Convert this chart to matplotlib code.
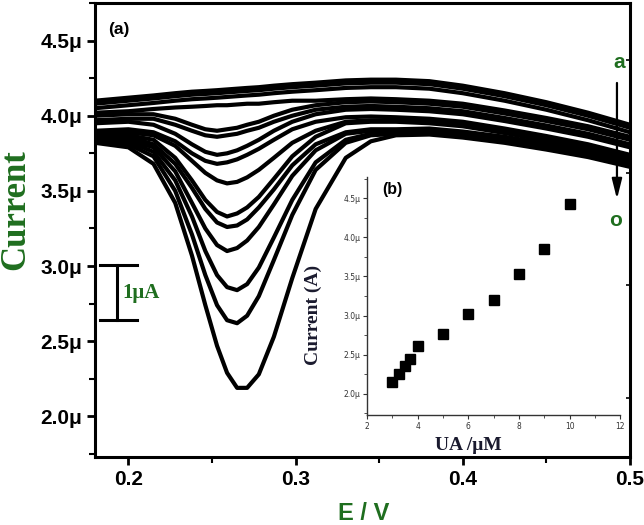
import matplotlib
matplotlib.use("Agg")
import matplotlib.pyplot as plt
from matplotlib.ticker import MultipleLocator, FuncFormatter

# potential grid (V) and DPV currents (uA), curves a..o
potential = [0.18, 0.20, 0.215, 0.228, 0.238, 0.246, 0.253, 0.259, 0.265, 0.271,
             0.278, 0.287, 0.298, 0.312, 0.33, 0.345, 0.36, 0.38, 0.40, 0.425,
             0.45, 0.475, 0.50]

curve_a = [4.10, 4.12, 4.135, 4.15, 4.16, 4.165, 4.17, 4.175, 4.18, 4.185, 4.19, 4.20, 4.21, 4.22, 4.235, 4.24, 4.24, 4.23, 4.20, 4.15, 4.09, 4.02, 3.94]
curve_b = [4.08, 4.10, 4.115, 4.13, 4.14, 4.145, 4.15, 4.155, 4.16, 4.165, 4.17, 4.18, 4.19, 4.20, 4.215, 4.22, 4.22, 4.21, 4.18, 4.13, 4.07, 4.00, 3.92]
curve_c = [4.05, 4.07, 4.085, 4.10, 4.11, 4.115, 4.12, 4.125, 4.13, 4.135, 4.14, 4.15, 4.16, 4.17, 4.185, 4.19, 4.19, 4.18, 4.15, 4.10, 4.04, 3.97, 3.89]
curve_d = [4.02, 4.03, 4.045, 4.055, 4.06, 4.065, 4.07, 4.07, 4.075, 4.08, 4.08, 4.09, 4.10, 4.10, 4.11, 4.115, 4.11, 4.10, 4.08, 4.035, 3.985, 3.93, 3.86]
curve_e = [4.00, 4.01, 4.01, 3.98, 3.94, 3.91, 3.90, 3.91, 3.92, 3.94, 3.96, 4.00, 4.04, 4.07, 4.09, 4.095, 4.09, 4.08, 4.06, 4.015, 3.965, 3.91, 3.84]
curve_f = [3.97, 3.98, 3.98, 3.94, 3.90, 3.87, 3.86, 3.87, 3.88, 3.90, 3.92, 3.96, 4.00, 4.04, 4.06, 4.065, 4.06, 4.05, 4.03, 3.985, 3.935, 3.88, 3.81]
curve_g = [3.95, 3.96, 3.94, 3.88, 3.81, 3.76, 3.74, 3.75, 3.77, 3.80, 3.84, 3.90, 3.96, 4.01, 4.04, 4.045, 4.04, 4.03, 4.01, 3.965, 3.915, 3.86, 3.79]
curve_h = [3.90, 3.91, 3.89, 3.83, 3.75, 3.70, 3.68, 3.69, 3.71, 3.74, 3.78, 3.84, 3.91, 3.96, 3.99, 3.995, 3.99, 3.98, 3.96, 3.915, 3.865, 3.81, 3.74]
curve_i = [3.88, 3.89, 3.87, 3.80, 3.70, 3.62, 3.57, 3.55, 3.56, 3.59, 3.64, 3.72, 3.82, 3.90, 3.96, 3.97, 3.97, 3.96, 3.94, 3.895, 3.845, 3.79, 3.72]
curve_j = [3.87, 3.87, 3.84, 3.72, 3.57, 3.44, 3.36, 3.33, 3.35, 3.39, 3.46, 3.58, 3.73, 3.86, 3.95, 3.96, 3.96, 3.95, 3.93, 3.885, 3.835, 3.78, 3.71]
curve_k = [3.86, 3.86, 3.81, 3.68, 3.52, 3.38, 3.29, 3.26, 3.27, 3.31, 3.39, 3.51, 3.67, 3.81, 3.89, 3.91, 3.91, 3.915, 3.895, 3.86, 3.815, 3.765, 3.70]
curve_l = [3.85, 3.84, 3.79, 3.63, 3.42, 3.25, 3.14, 3.10, 3.12, 3.17, 3.26, 3.41, 3.60, 3.77, 3.88, 3.90, 3.90, 3.905, 3.885, 3.85, 3.805, 3.755, 3.69]
curve_m = [3.84, 3.83, 3.76, 3.57, 3.33, 3.10, 2.94, 2.86, 2.84, 2.88, 2.99, 3.19, 3.44, 3.69, 3.84, 3.88, 3.89, 3.895, 3.875, 3.84, 3.795, 3.745, 3.68]
curve_n = [3.83, 3.81, 3.73, 3.50, 3.21, 2.94, 2.74, 2.64, 2.62, 2.67, 2.80, 3.04, 3.34, 3.64, 3.82, 3.87, 3.88, 3.885, 3.865, 3.83, 3.785, 3.735, 3.67]
curve_o = [3.82, 3.79, 3.68, 3.42, 3.07, 2.74, 2.47, 2.29, 2.19, 2.19, 2.28, 2.53, 2.92, 3.38, 3.72, 3.83, 3.87, 3.875, 3.855, 3.82, 3.775, 3.725, 3.66]

curves = [curve_a, curve_b, curve_c, curve_d, curve_e, curve_f, curve_g, curve_h,
          curve_i, curve_j, curve_k, curve_l, curve_m, curve_n, curve_o]

# inset (b): peak current vs UA concentration
ua_conc = [3, 3.25, 3.5, 3.7, 4, 5, 6, 7, 8, 9, 10]
peak_current = [2.15, 2.26, 2.36, 2.44, 2.61, 2.77, 3.02, 3.20, 3.53, 3.85, 4.42]

green = '#1f6e1f'
mu_fmt = FuncFormatter(lambda v, p: f'{v:.1f}\u03bc')

fig = plt.figure(figsize=(6.44, 5.25), dpi=100)
ax = fig.add_axes([0.1475, 0.1295, 0.8307, 0.8648])

for cur in curves:
    ax.plot(potential, cur, color='black', lw=3.0, solid_joinstyle='round',
            solid_capstyle='round')

ax.set_xlim(0.18, 0.5)
ax.set_ylim(1.73, 4.75)
ax.xaxis.set_major_locator(MultipleLocator(0.1))
ax.xaxis.set_minor_locator(MultipleLocator(0.05))
ax.yaxis.set_major_locator(MultipleLocator(0.5))
ax.yaxis.set_minor_locator(MultipleLocator(0.25))
ax.yaxis.set_major_formatter(mu_fmt)
ax.xaxis.set_major_formatter(FuncFormatter(lambda v, p: f'{v:.1f}'))
for s in ax.spines.values():
    s.set_linewidth(2.2)
ax.tick_params(which='major', direction='out', length=6, width=2, pad=3)
ax.tick_params(which='minor', direction='out', length=4, width=1.5)
for lab in ax.get_xticklabels() + ax.get_yticklabels():
    lab.set_fontfamily('Liberation Sans')
    lab.set_fontweight('bold')
    lab.set_fontsize(15)

# small inward ticks on the right frame
rt = ax.twinx()
rt.set_ylim(0.476, 4.507)
rt.set_yticks([1, 2, 3, 4])
rt.set_yticklabels([])
rt.tick_params(direction='in', length=3, width=1.2)

fig.text(0.024, 0.60, 'Current', rotation=90, color=green, ha='center', va='center',
         fontsize=25, fontweight='bold', family='Liberation Serif')
fig.text(0.564, 0.022, 'E / V', color=green, ha='center', va='center',
         fontsize=17, fontweight='bold', family='Liberation Sans')
ax.text(0.025, 0.958, '(a)', transform=ax.transAxes, ha='left', va='top',
        fontsize=12.5, fontweight='bold', family='Liberation Sans')

# 1 uA scale bar
tr = ax.transAxes
ax.plot([0.041, 0.041], [0.302, 0.423], color='black', lw=2.2, transform=tr)
ax.plot([0.0093, 0.0785], [0.423, 0.423], color='black', lw=2.2, transform=tr)
ax.plot([0.0093, 0.0785], [0.302, 0.302], color='black', lw=2.2, transform=tr)
ax.text(0.052, 0.362, '1\u03bcA', transform=tr, color=green, ha='left', va='center',
        fontsize=15, fontweight='bold', family='Liberation Serif')

# a -> o arrow
ax.annotate('', xy=(0.9757, 0.562), xytext=(0.9757, 0.830), xycoords='axes fraction',
            arrowprops=dict(arrowstyle='-|>,head_length=1.2,head_width=0.3',
                            color='black', lw=1.6))
ax.text(0.979, 0.870, 'a', transform=tr, color=green, ha='center', va='center',
        fontsize=15, fontweight='bold', family='Liberation Sans')
ax.text(0.974, 0.522, 'o', transform=tr, color=green, ha='center', va='center',
        fontsize=15, fontweight='bold', family='Liberation Sans')

# inset (b)
ins = fig.add_axes([0.570, 0.2095, 0.393, 0.4533])
ins.patch.set_alpha(0)
ins.plot(ua_conc, peak_current, 's', color='black', ms=7)
ins.set_xlim(2, 12)
ins.set_ylim(1.73, 4.77)
ins.xaxis.set_major_locator(MultipleLocator(2))
ins.xaxis.set_minor_locator(MultipleLocator(1))
ins.yaxis.set_major_locator(MultipleLocator(0.5))
ins.yaxis.set_minor_locator(MultipleLocator(0.25))
ins.yaxis.set_major_formatter(mu_fmt)
ins.spines['top'].set_visible(False)
ins.spines['right'].set_visible(False)
for s in ('left', 'bottom'):
    ins.spines[s].set_linewidth(1.0)
    ins.spines[s].set_color('#333333')
ins.tick_params(which='major', direction='out', length=3, width=0.8, pad=2,
                labelsize=5.5, colors='#333333')
ins.tick_params(which='minor', direction='out', length=2, width=0.6, colors='#333333')
ins.set_xlabel('UA /\u03bcM', fontsize=14, fontweight='bold', family='Liberation Serif',
               color='#1a1a2e')
ins.set_ylabel('Current (A)', fontsize=14, fontweight='bold', family='Liberation Serif',
               color='#1a1a2e')
ins.xaxis.set_label_coords(0.40, -0.092)
ins.yaxis.set_label_coords(-0.18, 0.42)
ins.text(0.06, 0.979, '(b)', transform=ins.transAxes, ha='left', va='top',
         fontsize=11.5, fontweight='bold', family='Liberation Sans')

fig.savefig('out.png', dpi=100)
